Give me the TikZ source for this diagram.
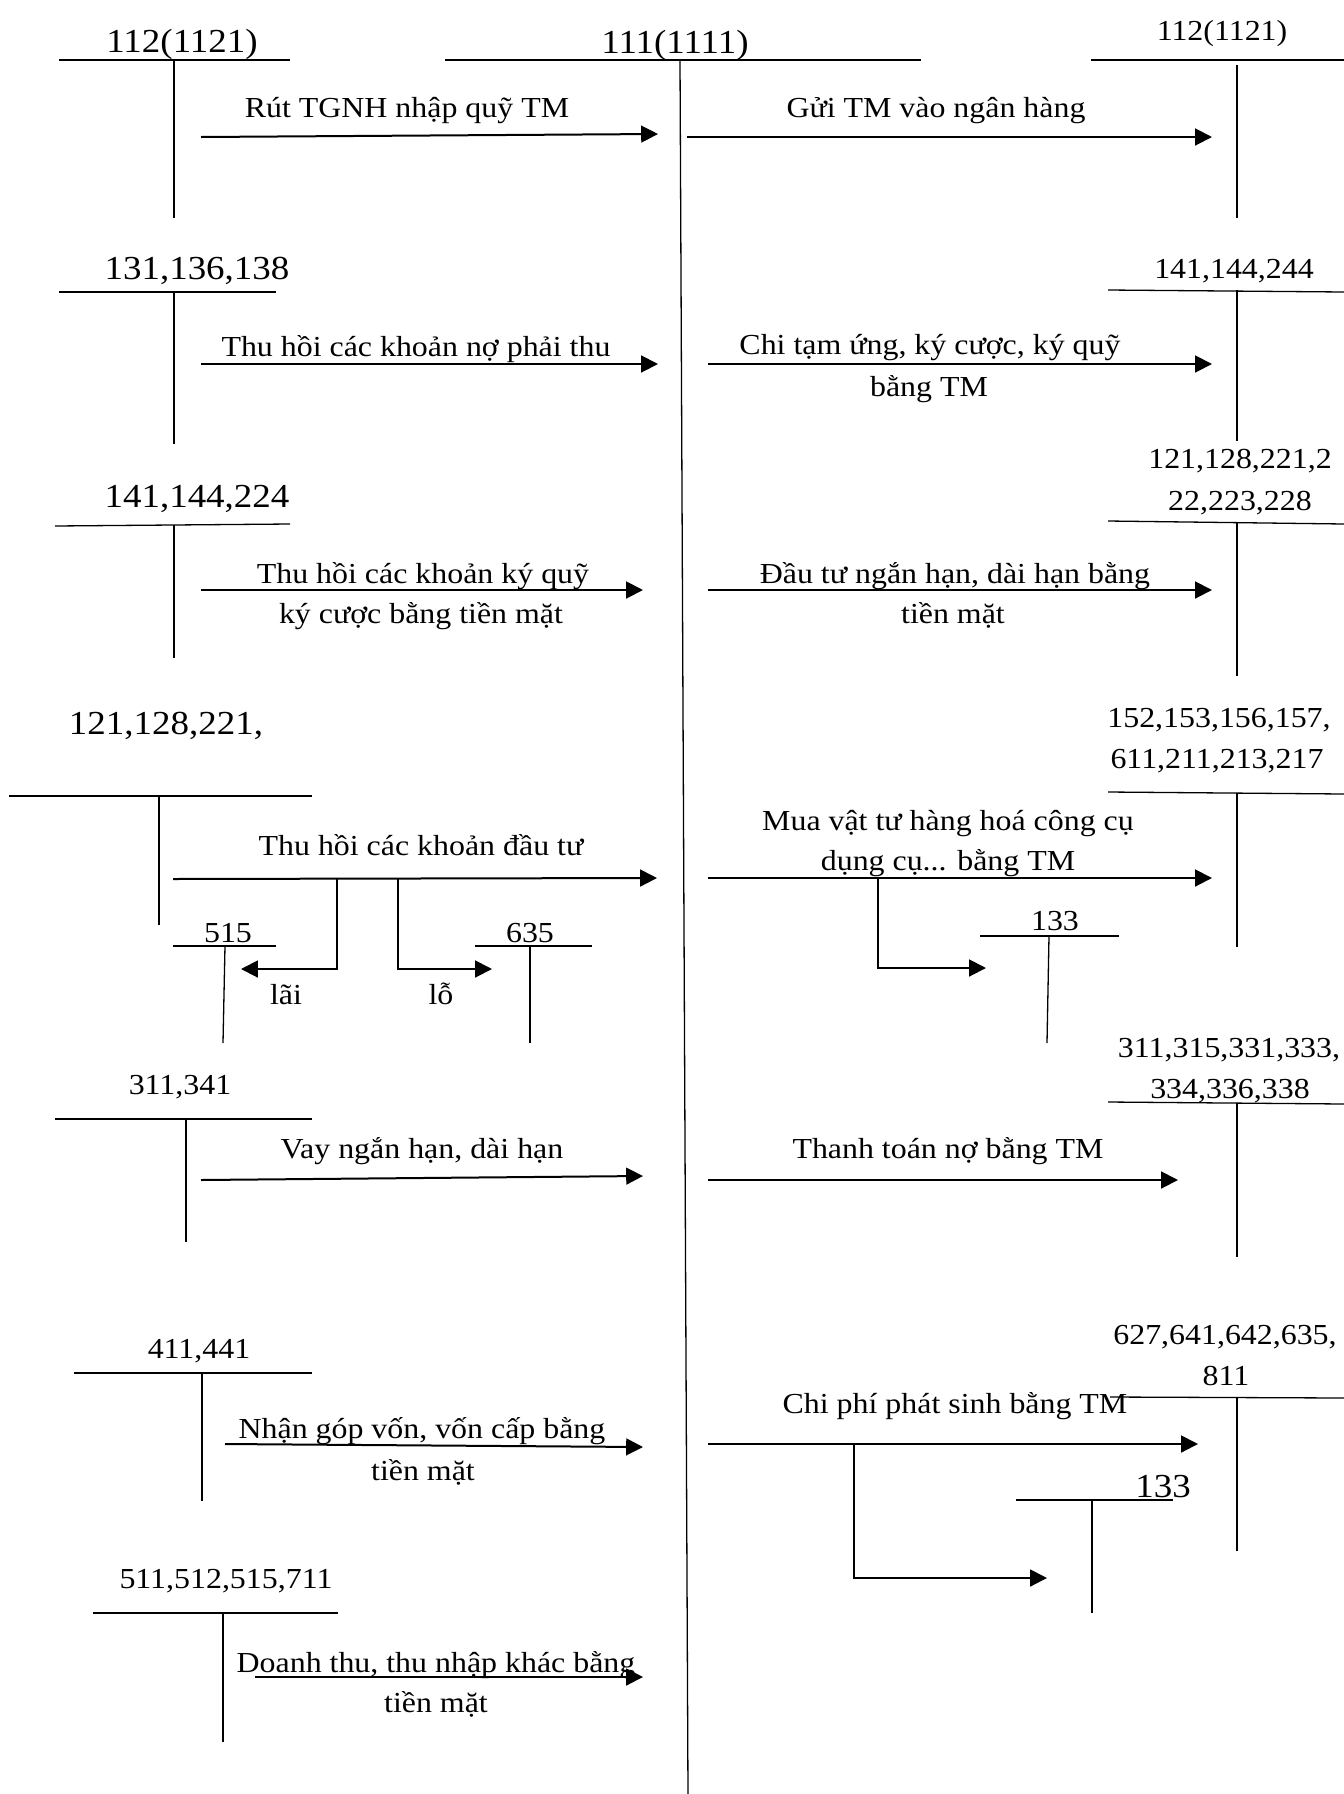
\documentclass[tikz,border=0pt]{standalone}
\usepackage{fontspec}
\setmainfont{Liberation Serif}[FakeStretch=1.1]
\usetikzlibrary{arrows.meta}

\begin{document}
\begin{tikzpicture}[x=0.5pt,y=-0.5pt,
  tacc/.style={line width=0.65pt},
  flow/.style={line width=1pt,-{Triangle[length=8.4pt,width=8.4pt]}},
  lab/.style={anchor=base,inner sep=0pt,font=\fontsize{14.5}{17}\selectfont},
  num/.style={anchor=base,inner sep=0pt,font=\fontsize{16.8}{20}\selectfont}]
\useasboundingbox (0,0) rectangle (1344,1794);

% cash account 111:
\node[num] (c111) at (675,53) {111(1111)};
\draw[tacc] (445,60) -- (921,60) ;\draw[tacc] (680,60) -- (688,1794) ;

% left accounts (debit side of 111):
\node[num] (l112) at (182,52) {112(1121)};
\draw[tacc] (59,60) -- (290,60) ;\draw[tacc] (174,60) -- (174,218) ;
\node[num] (l131) at (197,279) {131,136,138};
\draw[tacc] (59,292) -- (276,292) ;\draw[tacc] (174,292) -- (174,444) ;
\node[num] (l141) at (197,507) {141,144,224};
\draw[tacc] (55,526) -- (290,524) ;\draw[tacc] (174,525) -- (174,658) ;
\node[num] (l121) at (166,734) {121,128,221,};
\draw[tacc] (9,796) -- (312,796) ;\draw[tacc] (159,796) -- (159,925) ;
\node[lab] (l515) at (228,942) {515};
\draw[tacc] (173,946) -- (276,946) ;\draw[tacc] (225,946) -- (223,1043) ;
\node[lab] (l635) at (530,942) {635};
\draw[tacc] (475,946) -- (592,946) ;\draw[tacc] (530,946) -- (530,1043) ;
\node[lab] (l311) at (180,1094) {311,341};
\draw[tacc] (55,1119) -- (312,1119) ;\draw[tacc] (186,1119) -- (186,1242) ;
\node[lab] (l411) at (199,1358) {411,441};
\draw[tacc] (74,1373) -- (312,1373) ;\draw[tacc] (202,1373) -- (202,1501) ;
\node[lab] (l511) at (226,1588) {511,512,515,711};
\draw[tacc] (93,1613) -- (338,1613) ;\draw[tacc] (223,1613) -- (223,1742) ;

% right accounts (credit side of 111):
\node[lab] (r112) at (1222,40) {112(1121)};
\draw[tacc] (1091,60) -- (1344,60) ;\draw[tacc] (1237,65) -- (1237,218) ;
\node[lab] (r141) at (1234,278) {141,144,244};
\draw[tacc] (1108,290) -- (1344,292) ;\draw[tacc] (1237,290) -- (1237,441) ;
\node[lab] (r121a) at (1240,468) {121,128,221,2};
\node[lab] (r121b) at (1240,510) {22,223,228};
\draw[tacc] (1108,521) -- (1344,524) ;\draw[tacc] (1237,522) -- (1237,676) ;
\node[lab] (r152a) at (1219,727) {152,153,156,157,};
\node[lab] (r152b) at (1217,768) {611,211,213,217};
\draw[tacc] (1108,792) -- (1344,794) ;\draw[tacc] (1237,793) -- (1237,947) ;
\node[lab] (r133a) at (1055,930) {133};
\draw[tacc] (980,936) -- (1119,936) ;\draw[tacc] (1049,936) -- (1047,1043) ;
\node[lab] (r311a) at (1229,1057) {311,315,331,333,};
\node[lab] (r311b) at (1230,1098) {334,336,338};
\draw[tacc] (1108,1102) -- (1344,1104) ;\draw[tacc] (1237,1103) -- (1237,1257) ;
\node[lab] (r627a) at (1225,1344) {627,641,642,635,};
\node[lab] (r627b) at (1226,1385) {811};
\draw[tacc] (1110,1397) -- (1344,1398) ;\draw[tacc] (1237,1397) -- (1237,1551) ;
\node[num] (r133b) at (1163,1497) {133};
\draw[tacc] (1016,1500) -- (1173,1500) ;\draw[tacc] (1092,1500) -- (1092,1613) ;

% flows into 111:
\coordinate (a1s) at (201,137); \coordinate (a1e) at (658,134);
\coordinate (a2s) at (201,364); \coordinate (a2e) at (658,364);
\coordinate (a3s) at (201,590); \coordinate (a3e) at (643,590);
\coordinate (a4s) at (173,879); \coordinate (a4e) at (657,878);
\coordinate (a5s) at (201,1180); \coordinate (a5e) at (643,1176);
\coordinate (a6s) at (225,1444); \coordinate (a6e) at (643,1447);
\coordinate (a7s) at (255,1677); \coordinate (a7e) at (643,1677);
\draw[flow] (a1s) -- (a1e) ;\draw[flow] (a2s) -- (a2e) ;
\draw[flow] (a3s) -- (a3e) ;\draw[flow] (a4s) -- (a4e) ;
\draw[flow] (a5s) -- (a5e) ;\draw[flow] (a6s) -- (a6e) ;
\draw[flow] (a7s) -- (a7e) ;
% lai / lo split:
\coordinate (laifrom) at (337,879); \coordinate (laito) at (241,969);
\coordinate (lofrom) at (398,879); \coordinate (loto) at (492,969);
\draw[flow] (laifrom) |- (laito) ;\draw[flow] (lofrom) |- (loto) ;

% flows out of 111:
\coordinate (b1s) at (687,137); \coordinate (b1e) at (1212,137);
\coordinate (b2s) at (708,364); \coordinate (b2e) at (1212,364);
\coordinate (b3s) at (708,590); \coordinate (b3e) at (1212,590);
\coordinate (b4s) at (708,878); \coordinate (b4e) at (1212,878);
\coordinate (b5s) at (708,1180); \coordinate (b5e) at (1178,1180);
\coordinate (b6s) at (708,1444); \coordinate (b6e) at (1198,1444);
\draw[flow] (b1s) -- (b1e) ;\draw[flow] (b2s) -- (b2e) ;
\draw[flow] (b3s) -- (b3e) ;\draw[flow] (b4s) -- (b4e) ;
\draw[flow] (b5s) -- (b5e) ;\draw[flow] (b6s) -- (b6e) ;
% VAT parts:
\coordinate (vat1from) at (878,878); \coordinate (vat1to) at (986,968);
\coordinate (vat2from) at (854,1444); \coordinate (vat2to) at (1047,1578);
\draw[flow] (vat1from) |- (vat1to) ;\draw[flow] (vat2from) |- (vat2to) ;

% labels:
\node[lab] (rut) at (407,117) {Rút TGNH nhập quỹ TM};
\node[lab] (thuno) at (416,356) {Thu hồi các khoản nợ phải thu};
\node[lab] (thukq1) at (423,583) {Thu hồi các khoản ký quỹ};
\node[lab] (thukq2) at (421,623) {ký cược bằng tiền mặt};
\node[lab] (thudt) at (421,855) {Thu hồi các khoản đầu tư};
\node[lab] (lai) at (286,1004) {lãi};
\node[lab] (lo) at (441,1004) {lỗ};
\node[lab] (vay) at (422,1158) {Vay ngắn hạn, dài hạn};
\node[lab] (gop1) at (422,1438) {Nhận góp vốn, vốn cấp bằng};
\node[lab] (gop2) at (423,1480) {tiền mặt};
\node[lab] (dt1) at (436,1672) {Doanh thu, thu nhập khác bằng};
\node[lab] (dt2) at (436,1712) {tiền mặt};
\node[lab] (gui) at (936,117) {Gửi TM vào ngân hàng};
\node[lab] (tu1) at (930,354) {Chi tạm ứng, ký cược, ký quỹ};
\node[lab] (tu2) at (929,396) {bằng TM};
\node[lab] (dtu1) at (955,583) {Đầu tư ngắn hạn, dài hạn bằng};
\node[lab] (dtu2) at (953,623) {tiền mặt};
\node[lab] (mua1) at (948,830) {Mua vật tư hàng hoá công cụ};
\node[lab] (mua2) at (948,870) {dụng cụ... bằng TM};
\node[lab] (tt) at (948,1158) {Thanh toán nợ bằng TM};
\node[lab] (cp) at (955,1413) {Chi phí phát sinh bằng TM};
\end{tikzpicture}
\end{document}
